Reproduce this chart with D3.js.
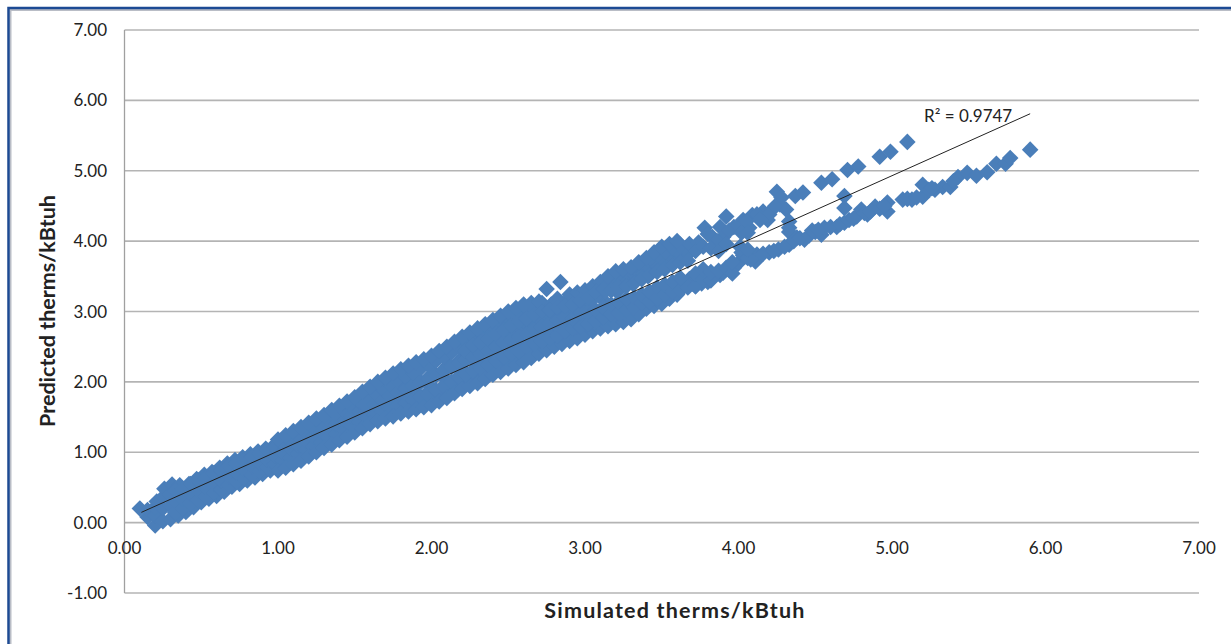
<!DOCTYPE html>
<html><head><meta charset="utf-8">
<script src="https://cdn.jsdelivr.net/npm/d3@7"></script>
<style>html,body{margin:0;padding:0;background:#fff}svg{display:block}text{font-family:Lato,"Open Sans",sans-serif;fill:#222}</style>
</head><body><svg id="c" width="1231" height="644"></svg>
<script>
const simulated = [
0.10,0.15,0.15,0.20,0.20,0.20,0.21,0.25,0.25,0.25,0.26,0.30,0.30,0.30,0.31,0.35,0.35,0.35,0.36,
0.40,0.40,0.41,0.42,0.45,0.45,0.46,0.47,0.50,0.50,0.51,0.52,0.60,0.60,0.61,0.62,0.55,0.56,0.57,
0.70,0.70,0.71,0.72,0.65,0.66,0.67,0.80,0.80,0.81,0.82,0.75,0.76,0.77,0.90,0.90,0.91,0.92,0.85,0.86,0.87,
1.00,1.00,1.01,1.02,0.95,0.96,0.97,1.10,1.10,1.11,1.12,1.05,1.06,1.07,1.20,1.20,1.21,1.22,1.15,1.16,1.17,
1.30,1.30,1.31,1.32,1.25,1.26,1.27,1.40,1.40,1.41,1.42,1.35,1.36,1.37,1.50,1.50,1.51,1.52,1.45,1.46,1.47,
1.60,1.60,1.61,1.62,1.55,1.56,1.57,1.58,1.70,1.70,1.71,1.72,1.65,1.66,1.67,1.68,1.80,1.80,1.81,1.82,1.75,1.76,1.77,1.78,
1.90,1.90,1.91,1.92,1.85,1.86,1.87,1.88,2.00,2.00,2.01,2.02,1.95,1.96,1.97,1.98,2.10,2.10,2.11,2.12,2.05,2.06,2.07,2.08,
2.20,2.20,2.21,2.22,2.15,2.16,2.17,2.18,2.30,2.30,2.31,2.32,2.25,2.26,2.27,2.28,2.40,2.40,2.41,2.42,2.35,2.36,2.37,2.38,
2.50,2.50,2.51,2.52,2.45,2.46,2.47,2.48,2.60,2.60,2.61,2.62,2.55,2.56,2.57,2.58,2.70,2.70,2.71,2.72,2.65,2.66,2.67,2.68,
2.80,2.80,2.81,2.82,2.75,2.76,2.77,2.84,2.90,2.90,2.91,2.92,2.85,2.86,2.87,3.00,3.00,3.01,3.02,2.95,2.96,2.97,
3.10,3.10,3.11,3.12,3.05,3.06,3.07,3.20,3.20,3.21,3.22,3.15,3.16,3.17,3.30,3.30,3.31,3.32,3.25,3.26,3.27,
3.40,3.40,3.41,3.42,3.35,3.36,3.37,3.50,3.50,3.51,3.52,3.45,3.46,3.47,3.60,3.60,3.61,3.62,3.55,3.56,3.57,
3.66,3.66,3.68,3.70,3.72,3.74,3.76,3.78,3.83,3.90,3.92,3.97,4.03,4.07,4.09,4.16,4.19,4.22,4.25,4.27,4.28,4.31,
4.33,4.33,4.37,4.42,4.54,4.61,4.69,4.69,4.71,4.78,4.92,4.99,5.10,
3.76,3.80,3.88,3.94,4.00,4.01,4.03,4.11,4.12,4.20,4.26,4.33,4.33,4.38,4.43,4.50,4.54,4.56,4.64,4.69,4.77,4.80,4.84,4.89,
4.97,4.97,5.07,5.13,5.20,5.20,5.24,5.28,5.33,5.38,5.43,5.49,5.55,5.62,5.68,5.74,5.77,5.90
];
const predicted = [
0.20,0.08,0.18,-0.04,0.10,0.22,0.30,0.02,0.20,0.36,0.48,0.05,0.24,0.40,0.54,0.10,0.28,0.42,0.53,
0.15,0.32,0.45,0.55,0.22,0.36,0.50,0.62,0.29,0.42,0.56,0.68,0.38,0.52,0.66,0.78,0.34,0.48,0.72,
0.51,0.64,0.76,0.89,0.44,0.58,0.84,0.60,0.72,0.85,0.97,0.55,0.68,0.93,0.69,0.82,0.94,1.05,0.64,0.77,1.01,
0.79,0.90,1.02,1.13,0.74,0.86,1.09,0.88,1.00,1.13,1.25,0.84,0.95,1.19,0.99,1.10,1.26,1.38,0.93,1.05,1.31,
1.11,1.22,1.35,1.48,1.04,1.16,1.43,1.22,1.34,1.47,1.60,1.16,1.28,1.54,1.33,1.46,1.59,1.72,1.27,1.40,1.66,
1.45,1.57,1.73,1.88,1.39,1.51,1.65,1.80,1.53,1.68,1.84,2.00,1.49,1.60,1.76,1.94,1.60,1.76,1.94,2.12,1.56,1.68,1.85,2.06,
1.66,1.84,2.04,2.22,1.63,1.75,1.95,2.17,1.72,1.92,2.12,2.31,1.69,1.82,2.04,2.26,1.82,2.02,2.24,2.43,1.77,1.90,2.15,2.37,
1.95,2.14,2.36,2.58,1.88,2.04,2.28,2.50,2.03,2.25,2.48,2.70,1.99,2.14,2.38,2.64,2.15,2.38,2.60,2.82,2.09,2.26,2.50,2.76,
2.24,2.48,2.72,2.94,2.19,2.36,2.60,2.88,2.33,2.56,2.80,3.05,2.28,2.44,2.70,2.99,2.45,2.66,2.90,3.12,2.38,2.54,2.78,3.08,
2.55,2.74,2.96,3.18,3.32,2.62,2.86,3.42,2.63,2.82,3.02,3.20,2.59,2.72,3.12,2.72,2.90,3.06,3.26,2.68,2.84,3.20,
2.80,2.96,3.18,3.38,2.76,2.92,3.30,2.86,3.02,3.28,3.53,2.82,3.00,3.44,2.93,3.10,3.40,3.58,2.90,3.06,3.52,
3.08,3.20,3.50,3.70,3.00,3.14,3.62,3.15,3.30,3.62,3.88,3.10,3.24,3.76,3.28,3.42,3.76,3.95,3.20,3.36,3.90,
3.38,3.90,3.46,3.88,3.36,3.94,3.40,4.19,4.06,4.06,4.35,4.20,4.30,4.19,4.37,4.42,4.30,4.45,4.70,4.52,4.62,4.45,
4.19,4.28,4.64,4.69,4.83,4.88,4.64,4.47,5.01,5.06,5.20,5.27,5.41,
3.55,3.42,3.52,3.59,3.69,3.92,3.80,3.71,3.81,3.84,3.88,3.95,4.13,4.05,4.02,4.13,4.09,4.19,4.20,4.26,4.35,4.45,4.38,4.49,
4.42,4.55,4.59,4.59,4.63,4.80,4.73,4.73,4.77,4.77,4.91,4.97,4.93,4.98,5.10,5.10,5.18,5.30
];
const simulatedCore = [
.33,.33,.33,.38,.38,.38,.43,.43,.43,.48,.48,.48,.53,.53,.53,.58,.58,.58,.63,.63,.63,.68,.68,.68,
.73,.73,.73,.78,.78,.78,.83,.83,.83,.88,.88,.88,.93,.93,.93,.98,.98,.98,
1.03,1.03,1.03,1.08,1.08,1.08,1.13,1.13,1.13,1.18,1.18,1.18,1.23,1.23,1.23,1.28,1.28,1.28,
1.33,1.33,1.33,1.38,1.38,1.38,1.43,1.43,1.43,1.48,1.48,1.48,1.53,1.53,1.53,1.58,1.58,1.58,
1.63,1.63,1.63,1.68,1.68,1.68,1.73,1.73,1.73,1.78,1.78,1.78,1.83,1.83,1.83,1.88,1.88,1.88,
1.93,1.93,1.93,1.98,1.98,1.98,2.03,2.03,2.03,2.08,2.08,2.08,2.13,2.13,2.13,2.18,2.18,2.18,
2.23,2.23,2.23,2.28,2.28,2.28,2.33,2.33,2.33,2.38,2.38,2.38,2.43,2.43,2.43,2.48,2.48,2.48,
2.53,2.53,2.53,2.58,2.58,2.58,2.63,2.63,2.63,2.68,2.68,2.68,2.73,2.73,2.73,2.78,2.78,2.78,
2.83,2.83,2.83,2.88,2.88,2.88,2.93,2.93,2.93,2.98,2.98,2.98,3.03,3.03,3.08,3.08,3.08,3.13,3.13,3.13,
3.18,3.18,3.18,3.23,3.23,3.23,3.28,3.28,3.28,3.33,3.33,3.33,3.38,3.38,3.38,3.43,3.43,3.43,
3.48,3.48,3.48,3.53,3.53,3.53,3.58,3.58,3.58,3.63,3.63,3.63,3.68,3.68,3.68,
3.74,3.80,3.86,3.88,3.94,4.00,4.05,4.12,4.20,4.14,4.24,
3.70,3.74,3.84,3.90,3.97,4.04,4.08,4.16,4.23,4.30,4.36,4.40,4.46,4.48,4.52,4.60,4.66,4.72,4.75,4.82,4.86,4.92,4.95,
5.10,5.16,5.26,5.40
];
const predictedCore = [
.14,.30,.46,.20,.34,.48,.27,.41,.55,.32,.46,.60,.37,.50,.63,.42,.56,.70,.47,.60,.74,.53,.66,.80,
.58,.71,.84,.63,.76,.88,.68,.80,.93,.73,.85,.98,.78,.90,1.02,.83,.95,1.07,
.88,1.00,1.12,.93,1.05,1.17,.98,1.10,1.23,1.03,1.16,1.29,1.08,1.22,1.35,1.14,1.28,1.40,
1.20,1.33,1.46,1.26,1.40,1.52,1.31,1.45,1.58,1.37,1.51,1.64,1.43,1.58,1.72,1.48,1.64,1.79,
1.53,1.69,1.85,1.58,1.74,1.91,1.62,1.80,1.97,1.66,1.85,2.03,1.70,1.90,2.08,1.74,1.94,2.13,
1.78,1.99,2.19,1.82,2.04,2.24,1.88,2.09,2.30,1.94,2.15,2.36,2.00,2.21,2.42,2.06,2.28,2.49,
2.12,2.34,2.56,2.18,2.40,2.62,2.23,2.46,2.68,2.29,2.52,2.74,2.34,2.58,2.80,2.40,2.64,2.86,
2.45,2.69,2.92,2.51,2.75,2.98,2.56,2.80,3.03,2.62,2.85,3.06,2.67,2.89,3.09,2.72,2.94,3.10,
2.76,2.98,3.12,2.81,3.03,3.14,2.86,3.08,3.18,2.90,3.10,3.22,2.94,3.14,2.98,3.24,3.30,3.04,3.28,3.40,
3.06,3.36,3.46,3.10,3.38,3.50,3.12,3.44,3.54,3.16,3.50,3.60,3.20,3.54,3.68,3.24,3.60,3.74,
3.26,3.64,3.80,3.30,3.70,3.84,3.34,3.74,3.88,3.38,3.80,3.92,3.44,3.84,3.96,
3.98,4.10,4.00,4.20,4.15,4.22,4.28,4.38,4.38,4.30,4.50,
3.40,3.46,3.50,3.55,3.62,3.78,3.74,3.82,3.86,3.92,4.00,4.04,4.08,4.15,4.16,4.20,4.24,4.30,4.32,4.40,4.42,4.46,4.50,
4.60,4.62,4.75,4.85
];
const simulatedUpperEdge = [1.00,1.05,1.10,1.15,1.20,1.25,1.30,1.35,1.40,1.45,1.50,1.55,1.60,1.65,1.70,1.75,1.80,1.85,1.90,1.95,2.00,2.05,2.10,2.15,2.20,2.25,2.30,2.35,2.40,2.45,2.50,2.55,2.60,2.65,2.70,2.90,2.95,3.00,3.05,3.10,3.15,3.20,3.25,3.30,3.35,3.40,3.45,3.50,3.55,3.60];
const predictedUpperEdge = [1.18,1.24,1.30,1.36,1.42,1.48,1.53,1.60,1.66,1.72,1.78,1.86,1.93,2.00,2.06,2.12,2.18,2.23,2.28,2.32,2.37,2.44,2.50,2.57,2.64,2.70,2.76,2.82,2.88,2.94,3.00,3.05,3.10,3.12,3.14,3.24,3.27,3.30,3.36,3.42,3.50,3.57,3.60,3.63,3.70,3.76,3.84,3.92,3.96,4.00];
const simulatedLowerEdge = [1.00,1.05,1.10,1.15,1.20,1.25,1.30,1.35,1.40,1.45,1.50,1.55,1.60,1.65,1.70,1.75,1.80,1.85,1.90,1.95,2.00,2.05,2.10,2.15,2.20,2.25,2.30,2.35,2.40,2.45,2.50,2.55,2.60,2.65,2.70,2.75,2.80,2.85,2.90,2.95,3.00,3.05,3.10,3.15,3.20,3.25,3.30,3.35,3.40,3.45,3.50,3.55,3.60];
const predictedLowerEdge = [.74,.78,.83,.88,.94,1.00,1.06,1.11,1.17,1.22,1.28,1.34,1.40,1.44,1.48,1.51,1.55,1.58,1.61,1.64,1.67,1.72,1.77,1.84,1.90,1.94,1.98,2.04,2.10,2.14,2.19,2.24,2.28,2.34,2.40,2.45,2.50,2.54,2.58,2.62,2.67,2.72,2.76,2.79,2.82,2.85,2.89,2.96,3.04,3.08,3.11,3.18,3.24];
const simulatedFill = [
2.22,2.22,2.22,2.27,2.27,2.27,2.32,2.32,2.32,2.37,2.37,2.37,2.42,2.42,2.42,2.47,2.47,2.47,2.52,2.52,2.52,2.57,2.57,2.57,
2.62,2.62,2.62,2.67,2.67,2.67,2.72,2.72,2.72,2.77,2.77,2.77,2.82,2.82,2.82,2.87,2.87,2.87,2.92,2.92,2.92,2.97,2.97,2.97,
3.02,3.02,3.02,3.07,3.07,3.07,3.12,3.12,3.12,3.17,3.17,3.17,3.22,3.22,3.22,3.27,3.27,3.27,3.32,3.32,3.32,3.37,3.37,3.37,
3.42,3.42,3.42,3.47,3.47,3.47,3.52,3.52,3.52,3.57,3.57,3.57,3.62,3.62,3.62,3.67,3.67,3.72,3.72,3.72,3.77,3.77,3.77,
3.82,3.82,3.82,3.87,3.87,3.92,3.92,3.96,3.96,4.02,4.02,4.06,4.06,4.06
];
const predictedFill = [
2.10,2.30,2.45,2.16,2.35,2.52,2.20,2.40,2.56,2.25,2.45,2.62,2.30,2.50,2.68,2.35,2.56,2.74,2.40,2.60,2.80,2.44,2.64,2.86,
2.50,2.68,2.90,2.54,2.74,2.96,2.58,2.78,3.00,2.62,2.84,3.02,2.66,2.88,3.06,2.72,2.92,3.08,2.76,2.90,3.10,2.78,2.98,3.16,
2.82,3.00,3.20,2.86,3.02,3.28,2.92,3.06,3.32,2.96,3.10,3.30,2.98,3.14,3.34,3.02,3.18,3.36,3.06,3.20,3.40,3.12,3.24,3.46,
3.14,3.28,3.52,3.18,3.34,3.56,3.24,3.38,3.60,3.28,3.42,3.66,3.30,3.48,3.70,3.34,3.72,3.36,3.54,3.86,3.46,3.60,3.92,
3.44,3.56,3.90,3.58,3.86,3.62,3.96,3.54,3.70,3.84,4.12,3.76,3.88,4.12
];
const xTicks = [0,1,2,3,4,5,6,7];
const yTicks = [-1,0,1,2,3,4,5,6,7];
const trendX = [0.11,5.90];
const trendY = [0.146,5.81];
const xTitle = "Simulated therms/kBtuh";
const yTitle = "Predicted therms/kBtuh";
const r2Label = "R² = 0.9747";

const svg = d3.select("#c");
const x = d3.scaleLinear().domain([0,7]).range([124.5,1199]);
const y = d3.scaleLinear().domain([-1,7]).range([593,30]);
const fmt = d => d3.format(".2f")(d).replace("\u2212","-");

svg.append("path").attr("d","M8.5,644V8H1231").attr("fill","none").attr("stroke","#b9bdc6").attr("stroke-width",4).attr("transform","translate(1,1)");
svg.append("path").attr("d","M8.5,644V8H1231").attr("fill","none").attr("stroke","#1c4a94").attr("stroke-width",2.4);

svg.append("g").selectAll("line").data(yTicks).join("line")
  .attr("x1",x(0)).attr("x2",x(7)).attr("y1",d=>y(d)).attr("y2",d=>y(d))
  .attr("stroke","#b4b4b4").attr("stroke-width",1.6);
svg.append("line").attr("x1",x(0)).attr("x2",x(0)).attr("y1",y(7)).attr("y2",y(-1)).attr("stroke","#a0a0a0").attr("stroke-width",1.3);

svg.append("g").selectAll("text").data(yTicks).join("text")
  .attr("x",107).attr("y",d=>y(d)+6).attr("text-anchor","end").attr("font-size",17).text(fmt);
svg.append("g").selectAll("text").data(xTicks).join("text")
  .attr("x",d=>x(d)).attr("y",y(0)+31).attr("text-anchor","middle").attr("font-size",17).text(fmt);

const zip = (a,b) => a.map((s,i)=>[s,b[i]]);
const pts = [...zip(simulated,predicted),...zip(simulatedCore,predictedCore),...zip(simulatedUpperEdge,predictedUpperEdge),...zip(simulatedLowerEdge,predictedLowerEdge),...zip(simulatedFill,predictedFill)];
const sym = d3.symbol().type(d3.symbolSquare).size(137)();
svg.append("g").selectAll("path").data(pts).join("path")
  .attr("d",sym).attr("fill","#4a7eb9")
  .attr("transform",d=>`translate(${x(d[0])},${y(d[1])}) rotate(45)`);

svg.append("line").attr("x1",x(trendX[0])).attr("y1",y(trendY[0])).attr("x2",x(trendX[1])).attr("y2",y(trendY[1]))
  .attr("stroke","#222").attr("stroke-width",1);

svg.append("text").attr("x",924).attr("y",122).attr("font-size",17).text(r2Label);
svg.append("text").attr("x",675).attr("y",618).attr("text-anchor","middle").attr("font-size",21.5).attr("letter-spacing",1.2).attr("font-weight",700).text(xTitle);
svg.append("text").attr("transform","translate(55,311) rotate(-90)").attr("text-anchor","middle").attr("font-size",21.5).attr("font-weight",700).text(yTitle);
</script></body></html>
